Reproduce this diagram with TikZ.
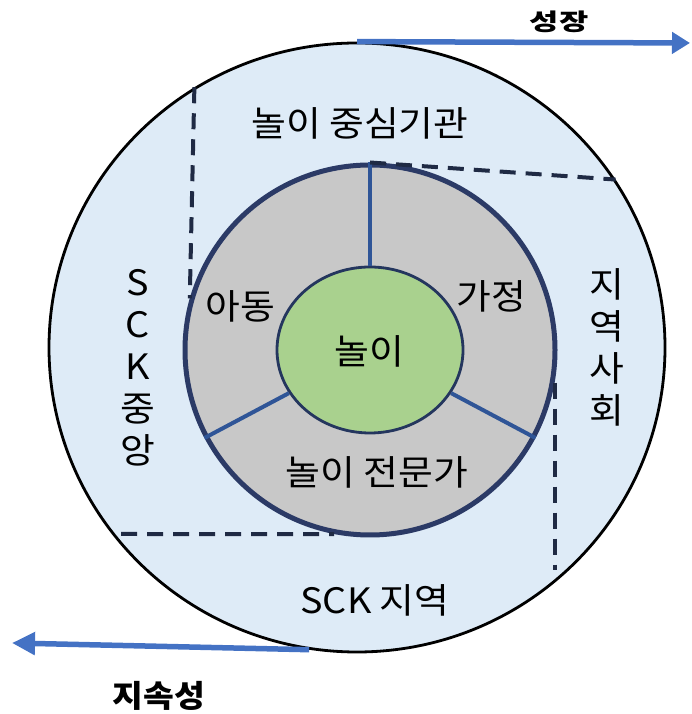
\documentclass[tikz,border=0pt]{standalone}
\usepackage{fontspec}
\setmainfont{Noto Sans CJK KR}[FakeStretch=1.08]
\usetikzlibrary{shapes.geometric,arrows.meta}
\definecolor{outerfill}{HTML}{DEEBF7}
\definecolor{ringgray}{HTML}{C8C8C8}
\definecolor{ringnavy}{HTML}{2B3A66}
\definecolor{innernavy}{HTML}{24365E}
\definecolor{playgreen}{HTML}{A9D18E}
\definecolor{divblue}{HTML}{2F5597}
\definecolor{dashnavy}{HTML}{1F2A44}
\definecolor{arrowblue}{HTML}{4472C4}
\begin{document}
\begin{tikzpicture}[x=1pt,y=1pt,
  lbl/.style={font=\fontsize{35}{40}\selectfont, inner sep=0pt, text=black},
  vlbl/.style={font=\fontsize{35}{42}\selectfont, inner sep=0pt, align=center, text=black},
  boldlbl/.style={font=\fontsize{31}{36}\selectfont\bfseries, inner sep=0pt, text=black},
  divider/.style={draw=divblue, line width=4pt},
  dashline/.style={draw=dashnavy, line width=4pt, dash pattern=on 16pt off 10pt},
  flow/.style={draw=arrowblue, line width=5.5pt}]
\useasboundingbox (0,0) rectangle (691,714);
% circles
\node[ellipse, draw=black, line width=2.8pt, fill=outerfill, minimum width=616pt, minimum height=609pt, inner sep=0pt] (outer) at (357,366.5) {};
\node[ellipse, draw=ringnavy, line width=5pt, fill=ringgray, minimum width=370pt, minimum height=370pt, inner sep=0pt] (ring) at (370,364) {};
\node[ellipse, draw=innernavy, line width=2.8pt, fill=playgreen, minimum width=186pt, minimum height=166pt, inner sep=0pt] (inner) at (370,364) {};
% dividers
\draw[divider] (inner.90) -- (ring.90);
\draw[divider] (inner.208) -- (ring.208);
\draw[divider] (inner.-28) -- (ring.-28);
% dashed boundaries
\coordinate (rightend) at (554,144);
\coordinate (bottomstart) at (121,180);
\draw[dashline] (outer.122.96) -- (ring.164.2);
\draw[dashline] (ring.north) -- (outer.33.8);
\draw[dashline] (ring.-10) -- (ring.-10 |- rightend);
\draw[dashline] (bottomstart) -- (ring.259);
% arrows
\coordinate (topend) at (690,671);
\coordinate (botend) at (12,71);
\draw[flow, -{Triangle[length=18pt,width=21pt]}] (outer.north) -- (topend);
\draw[flow, -{Triangle[length=23pt,width=22pt]}] (outer.261) -- (botend);
% labels
\node[boldlbl] (grow) at (559,692) {\scalebox{0.95}[0.75]{성장}};
\node[boldlbl] (sustain) at (159,18) {지속성};
\node[lbl] (hub) at (360,591) {놀이 중심기관};
\node[lbl] (local) at (375,114) {SCK 지역};
\node[vlbl] (central) at (138,346) {S\\C\\K\\중\\앙};
\node[vlbl] (community) at (607,367) {지\\역\\사\\회};
\node[lbl] (child) at (240,408) {아동};
\node[lbl] (family) at (491,418) {가정};
\node[lbl] (play) at (369,363) {놀이};
\node[lbl] (expert) at (377,242) {놀이 전문가};
\end{tikzpicture}
\end{document}
